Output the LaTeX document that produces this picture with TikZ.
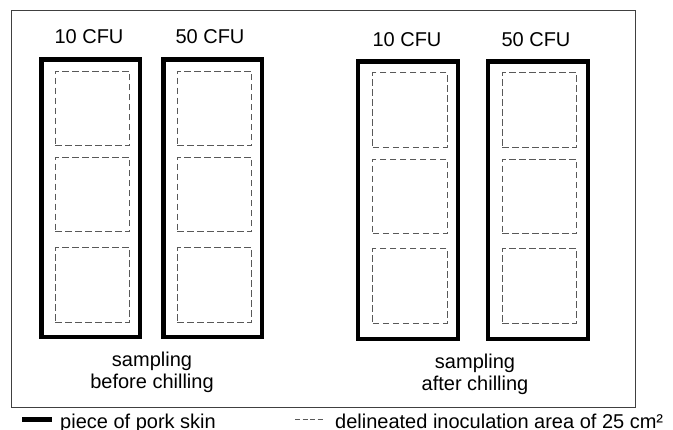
\documentclass[tikz,border=0pt]{standalone}
\usepackage{fontspec}
\setmainfont{Liberation Sans}
\begin{document}
\begin{tikzpicture}[x=1pt,y=-1pt,
  skin/.style={draw=black, line width=4.8pt, minimum width=98.5pt, minimum height=277.5pt, inner sep=0pt, outer sep=0pt},
  area/.style={draw=black!65, line width=0.9pt, dash pattern=on 6.5pt off 3.5pt, minimum width=74.5pt, minimum height=74.5pt, inner sep=0pt, outer sep=0pt},
  lbl/.style={font=\fontsize{20}{22}\selectfont, inner sep=0pt, anchor=base},
  frame/.style={draw=black!75, line width=0.9pt}]
\useasboundingbox (0,0) rectangle (673,430);
\draw[frame] (11,10.3) rectangle (635,407);
% pieces of pork skin
\node[skin] (b1) at (90.75,198.25) {};
\node[skin] (b2) at (212.75,198.25) {};
\node[skin, minimum width=100pt] (b3) at (408,200.25) {};
\node[skin, minimum width=100pt] (b4) at (538,200.25) {};
% inoculation areas
\foreach \x/\n in {92.5/1, 214.5/2}{
  \node[area] (a\n t) at (\x,108.5) {};
  \node[area] (a\n m) at (\x,194.5) {};
  \node[area] (a\n b) at (\x,285) {};
}
\foreach \x/\n in {410/3, 539.5/4}{
  \node[area] (a\n t) at (\x,110) {};
  \node[area] (a\n m) at (\x,196.5) {};
  \node[area] (a\n b) at (\x,286) {};
}
% labels
\node[lbl] (t1) at (89,44) {10 CFU};
\node[lbl] (t2) at (210,44) {50 CFU};
\node[lbl] (t3) at (407,46.5) {10 CFU};
\node[lbl] (t4) at (536,46.5) {50 CFU};
\node[lbl] (s1a) at (152,367) {sampling};
\node[lbl] (s1b) at (152,389) {before chilling};
\node[lbl] (s2a) at (475,369) {sampling};
\node[lbl] (s2b) at (475,391) {after chilling};
% legend
\coordinate (la) at (22,419.5);
\coordinate (lb) at (52,419.5);
\draw[line width=4.8pt] (la) -- (lb);
\node[lbl, anchor=base west] (lt1) at (60,429) {piece of pork skin};
\coordinate (lc) at (295,419);
\coordinate (ld) at (323,419);
\draw[draw=black!65, line width=0.8pt, dash pattern=on 5pt off 2.5pt] (lc) -- (ld);
\node[lbl, anchor=base west] (lt2) at (335,429) {delineated inoculation area of 25 cm²};
\end{tikzpicture}
\end{document}
